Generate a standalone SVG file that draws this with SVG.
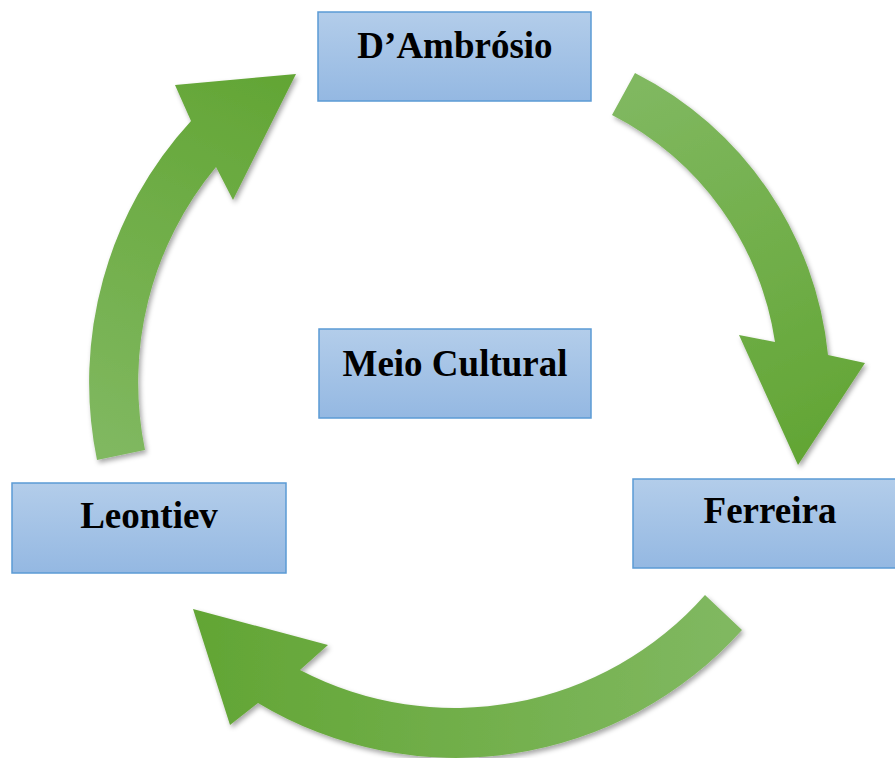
<svg xmlns="http://www.w3.org/2000/svg" width="895" height="758" viewBox="0 0 895 758">
<defs>
<linearGradient id="boxFill" x1="0" y1="0" x2="0" y2="1">
<stop offset="0" stop-color="#b3cdea"/>
<stop offset="1" stop-color="#94b8e2"/>
</linearGradient>
<linearGradient id="g1" gradientUnits="userSpaceOnUse" x1="623" y1="94" x2="798" y2="465">
<stop offset="0" stop-color="#80b860"/>
<stop offset="1" stop-color="#62a534"/>
</linearGradient>
<linearGradient id="g2" gradientUnits="userSpaceOnUse" x1="724" y1="612" x2="193" y2="609">
<stop offset="0" stop-color="#80b860"/>
<stop offset="1" stop-color="#62a534"/>
</linearGradient>
<linearGradient id="g3" gradientUnits="userSpaceOnUse" x1="121" y1="455" x2="296" y2="74">
<stop offset="0" stop-color="#80b860"/>
<stop offset="1" stop-color="#62a534"/>
</linearGradient>
<filter id="shadow" x="-10%" y="-10%" width="130%" height="130%">
<feDropShadow dx="2" dy="3" stdDeviation="2.5" flood-color="#000" flood-opacity="0.35"/>
</filter>
<style>
.box{fill:url(#boxFill);stroke:#5b9bd5;stroke-width:1.5}
.lbl{font-family:"Liberation Serif","Times New Roman",serif;font-weight:bold;font-size:37px;fill:#000;text-anchor:middle}
.arrow{filter:url(#shadow)}
</style>
</defs>
<g id="connectors">
<path id="arrow-dambrosio-ferreira" class="arrow" fill="url(#g1)" d="M635,73 A356,356 0 0 1 828,355 L865,363 L798,465 L739,335 L775,342 A305,305 0 0 0 612,115 Z"/>
<path id="arrow-ferreira-leontiev" class="arrow" fill="url(#g2)" d="M742,630 A384,384 0 0 1 258,703 L230,725 L193,609 L328,645 L300,670 A334,334 0 0 0 705,595 Z"/>
<path id="arrow-leontiev-dambrosio" class="arrow" fill="url(#g3)" d="M97,460 A386,386 0 0 1 191,121 L175,85 L296,74 L233,200 L216,167 A337,337 0 0 0 145,450 Z"/>
</g>
<g id="node-dambrosio">
<rect class="box" x="318" y="12" width="273" height="89"/>
<text class="lbl" x="455" y="58">D’Ambrósio</text>
</g>
<g id="node-meio-cultural">
<rect class="box" x="319" y="329" width="272" height="89"/>
<text class="lbl" x="455" y="376">Meio Cultural</text>
</g>
<g id="node-leontiev">
<rect class="box" x="12" y="483" width="274" height="90"/>
<text class="lbl" x="149" y="528">Leontiev</text>
</g>
<g id="node-ferreira">
<rect class="box" x="633" y="479" width="274" height="89"/>
<text class="lbl" x="770" y="523">Ferreira</text>
</g>
</svg>
